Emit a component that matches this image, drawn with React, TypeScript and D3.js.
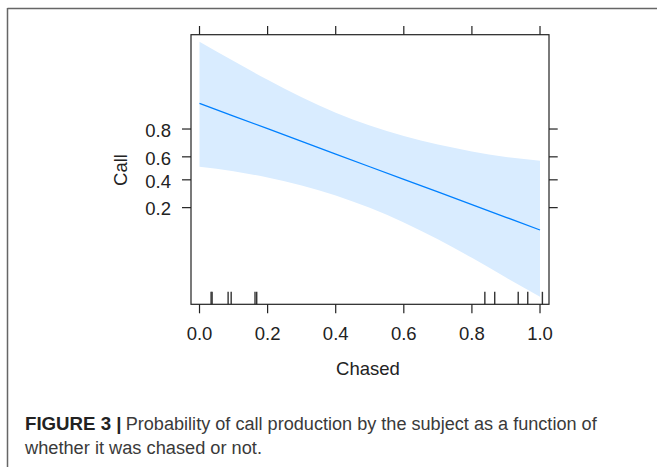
import React from "react";
import * as d3 from "d3";

// values (probability scale)
export const chased = [0, 0.1, 0.2, 0.3, 0.4, 0.5, 0.6, 0.7, 0.8, 0.9, 1.0];
export const fit = [0.908, 0.863, 0.802, 0.721, 0.623, 0.514, 0.404, 0.303, 0.217, 0.151, 0.102];
export const upper = [0.9886, 0.9778, 0.9578, 0.9248, 0.877, 0.819, 0.757, 0.698, 0.645, 0.598, 0.567];
export const lower = [0.515, 0.475, 0.419, 0.3525, 0.2775, 0.199, 0.129, 0.0755, 0.0408, 0.0208, 0.0107];
export const rug = [0.034, 0.037, 0.084, 0.093, 0.163, 0.168, 0.838, 0.867, 0.936, 0.964, 1.007];

export const xTicks = [0, 0.2, 0.4, 0.6, 0.8, 1.0];
export const yTicks = [0.2, 0.4, 0.6, 0.8];

const logit = (p: number) => Math.log(p / (1 - p));

const W = 657;
const H = 467;
const panel = { left: 191, right: 549, top: 34.7, bottom: 304.3 };

const App = () => {
  const x = d3.scaleLinear().domain([-0.025, 1.0264]).range([panel.left, panel.right]);
  const y = d3
    .scaleLinear()
    .domain([logit(0.0082), logit(0.9911)])
    .range([panel.bottom, panel.top]);

  const rows = chased.map((c, i) => ({ c, f: fit[i], lo: lower[i], hi: upper[i] }));

  const band = d3
    .area<any>()
    .x((d) => x(d.c))
    .y0((d) => y(logit(d.lo)))
    .y1((d) => y(logit(d.hi)))
    .curve(d3.curveMonotoneX);

  const line = d3
    .line<any>()
    .x((d) => x(d.c))
    .y((d) => y(logit(d.f)));

  const font = "'Liberation Sans', Arial, sans-serif";
  const tick = "#222";

  return (
    <svg
      width={W}
      height={H}
      style={{ position: "absolute", left: 0, top: 0, background: "#fff" }}
    >
      {/* figure frame */}
      <line x1={7.5} x2={W} y1={8.5} y2={8.5} stroke="#666" strokeWidth={1.5} />
      <line x1={7.5} x2={7.5} y1={8} y2={H} stroke="#666" strokeWidth={1.5} />

      <path d={band(rows) ?? ""} fill="#d9ecff" />
      <path d={line(rows) ?? ""} fill="none" stroke="#0080ff" strokeWidth={1.3} />

      {/* rug */}
      {rug.map((r, i) => (
        <line
          key={"r" + i}
          x1={x(r)}
          x2={x(r)}
          y1={panel.bottom - 12.5}
          y2={panel.bottom}
          stroke="#333"
          strokeWidth={1.4}
        />
      ))}

      <rect
        x={panel.left}
        y={panel.top}
        width={panel.right - panel.left}
        height={panel.bottom - panel.top}
        fill="none"
        stroke="#222"
        strokeWidth={1.2}
      />

      {xTicks.map((t) => (
        <g key={"x" + t}>
          <line x1={x(t)} x2={x(t)} y1={panel.bottom} y2={panel.bottom + 9} stroke={tick} strokeWidth={1.2} />
          <line x1={x(t)} x2={x(t)} y1={panel.top - 8.7} y2={panel.top} stroke={tick} strokeWidth={1.2} />
          <text
            x={x(t)}
            y={340}
            textAnchor="middle"
            fontFamily={font}
            fontSize={18.5}
            fill="#222"
          >
            {d3.format(".1f")(t)}
          </text>
        </g>
      ))}

      {yTicks.map((t) => (
        <g key={"y" + t}>
          <line x1={panel.left - 9} x2={panel.left} y1={y(logit(t))} y2={y(logit(t))} stroke={tick} strokeWidth={1.2} />
          <line x1={panel.right} x2={panel.right + 8.7} y1={y(logit(t))} y2={y(logit(t))} stroke={tick} strokeWidth={1.2} />
          <text
            x={171}
            y={y(logit(t)) + 7.8}
            textAnchor="end"
            fontFamily={font}
            fontSize={18.5}
            fill="#222"
          >
            {d3.format(".1f")(t)}
          </text>
        </g>
      ))}

      <text x={368} y={375} textAnchor="middle" fontFamily={font} fontSize={18.5} fill="#222">
        Chased
      </text>
      <text
        transform="translate(126.5,170) rotate(-90)"
        textAnchor="middle"
        fontFamily={font}
        fontSize={18.5}
        fill="#222"
      >
        Call
      </text>

      {/* caption */}
      <text
        x={25}
        y={430}
        fontFamily={font}
        fontSize={18}
        fontWeight="bold"
        fill="#222"
        textLength={96.5}
        lengthAdjust="spacingAndGlyphs"
      >
        FIGURE 3 |
      </text>
      <text
        x={125.7}
        y={430}
        fontFamily={font}
        fontSize={18}
        fill="#3a3a3a"
        textLength={471}
        lengthAdjust="spacingAndGlyphs"
      >
        Probability of call production by the subject as a function of
      </text>
      <text
        x={25}
        y={454}
        fontFamily={font}
        fontSize={18}
        fill="#3a3a3a"
        textLength={237}
        lengthAdjust="spacingAndGlyphs"
      >
        whether it was chased or not.
      </text>
    </svg>
  );
};

export default App;
